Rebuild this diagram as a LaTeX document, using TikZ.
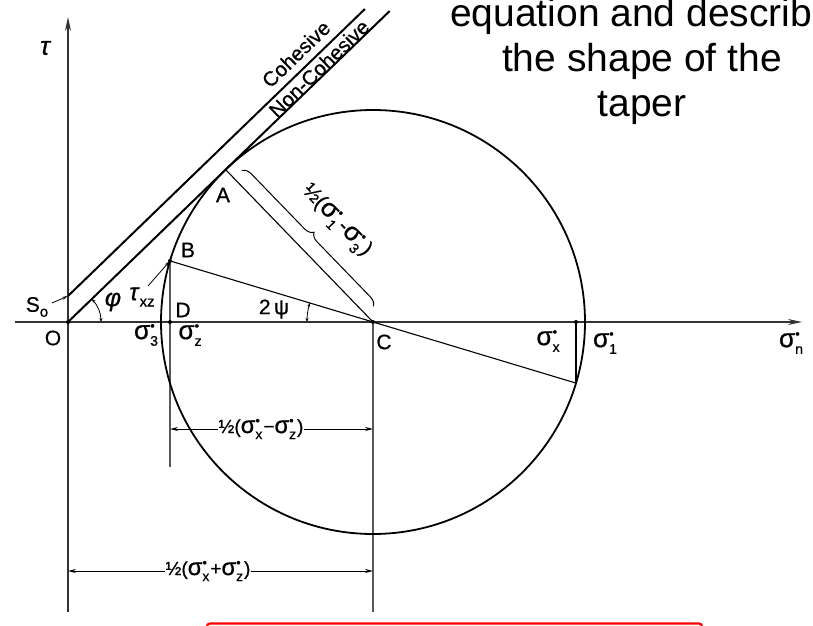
\documentclass[tikz,border=0pt]{standalone}
\usepackage{fontspec}
\setmainfont{Liberation Sans}
\newfontfamily\lblfont{Liberation Sans}[FakeBold=0.6]
\usetikzlibrary{arrows.meta,decorations.pathreplacing,calc}
\newcommand\sgm[1]{\scalebox{1.25}{σ}\rlap{\raisebox{0.8ex}{\fontsize{13}{13}\selectfont •}}\raisebox{-0.6ex}{\fontsize{14}{14}\selectfont #1}}
\begin{document}
\begin{tikzpicture}[x=1pt,y=1pt,
  lbl/.style={font=\lblfont\fontsize{21}{24}\selectfont, inner sep=0pt},
  envlbl/.style={font=\lblfont\fontsize{20.5}{22}\selectfont, inner sep=0pt},
  dimlbl/.style={font=\lblfont\fontsize{19}{22}\selectfont, inner sep=1pt, fill=white},
  toptext/.style={font=\fontsize{39}{45}\selectfont, anchor=base, inner sep=0pt},
  axis/.style={line width=1.5pt, black!80, -{Stealth[length=14pt,width=6pt]}},
  vline/.style={line width=1.3pt, black!65},
  env/.style={line width=2pt},
  thinln/.style={line width=1.1pt},
  dimarr/.style={line width=0.9pt, {Stealth[length=8pt,width=4pt]}-{Stealth[length=8pt,width=4pt]}},
  angarr/.style={line width=0.8pt, {Stealth[length=4pt,width=3pt]}-{Stealth[length=4pt,width=3pt]}},
  leader/.style={line width=0.8pt, -{Stealth[length=6pt,width=3pt]}},
  dot/.style={circle, fill, inner sep=0pt, minimum size=4pt}]
\clip (0,0) rectangle (813,625);
% key points
\coordinate (O) at (68,303);
\coordinate (C) at (373,303);
\coordinate (D) at (170,303);
\coordinate (B) at (170,364.1);
\coordinate (E) at (576,241.9);
\coordinate (X) at (576,303);
\coordinate (A) at (225.6,455.4);
\coordinate (S) at (68,329);
\coordinate (NE) at (389.7,614);
\coordinate (CE) at (364.9,616);
\coordinate (Xl) at (15,303);
\coordinate (Xr) at (802,303);
\coordinate (Yb) at (68,13);
\coordinate (Yt) at (68,608);
\coordinate (Cb) at (373,13);
\coordinate (Db) at (170,158);
% axes
\draw[axis] (Xl) -- (Xr);
\draw[axis] (Yb) -- (Yt);
% verticals
\draw[vline] (B) -- (Db);
\draw[vline] (C) -- (Cb);
% circle
\draw[line width=1.8pt] (C) circle[radius=212];
% envelopes
\draw[env] (O) -- (NE);
\draw[env] (S) -- (CE);
% radii
\draw[thinln] (B) -- (E);
\draw[thinln] (A) -- (C);
\draw[thinln] (X) -- (E);
% dots
\foreach \p in {O,D,C,B,X} \node[dot] (d\p) at (\p) {};
% angle phi
\draw[angarr] ($(O)+(0:33)$) arc[start angle=0, end angle=44.04, radius=33];
% angle 2psi
\draw[angarr] ($(C)+(180:66)$) arc[start angle=180, end angle=163.25, radius=66];
% brace
\coordinate (br1) at (241.9,454.4);
\coordinate (br2) at (373.3,318.6);
\draw[line width=1pt, decorate, decoration={brace, amplitude=9pt}] (br1) -- (br2);
\node[lbl, rotate=-46] (lbrace) at (336,404) {½(\sgm{1}\kern2pt-\sgm{3}\kern2pt)};
% S0 arrow
\coordinate (s0a) at (52,322);
\draw[leader] (s0a) -- (S);
% tau_xz leader
\coordinate (txa) at (148,339);
\draw[leader] (txa) -- (B);
% dimensions
\coordinate (d1l) at (170,196);
\coordinate (d1r) at (373,196);
\draw[dimarr] (d1l) -- (d1r);
\node[dimlbl] (l1) at (261,196) {½(\sgm{x}\kern1pt−\sgm{z}\kern1pt)};
\coordinate (d2l) at (68,54);
\coordinate (d2r) at (373,54);
\draw[dimarr] (d2l) -- (d2r);
\node[dimlbl] (l2) at (208,54) {½(\sgm{x}\kern1pt+\sgm{z}\kern1pt)};
% envelope labels
\node[envlbl, rotate=44.04] (coh) at (296,571) {Cohesive};
\node[envlbl, rotate=44.04] (ncoh) at (319,556.5) {Non-Cohesive};
% labels
\node[lbl, font=\lblfont\fontsize{26}{28}\selectfont\itshape] (tau) at (45,577) {τ};
\node[lbl] (sn) at (791,282) {\sgm{n}};
\node[lbl] (lO) at (53,287) {O};
\node[lbl] (lS) at (37,318) {S\raisebox{-0.45ex}{\fontsize{15}{15}\selectfont o}};
\node[lbl, font=\lblfont\fontsize{25}{28}\selectfont\itshape] (lphi) at (113,323) {φ};
\node[lbl] (ltxz) at (142,328) {\fontsize{24}{26}\selectfont\textit{τ}\raisebox{-0.5ex}{\fontsize{15}{15}\selectfont xz}};
\node[lbl] (lD) at (183,315) {D};
\node[lbl] (ls3) at (146,290) {\sgm{3}};
\node[lbl] (lsz) at (190,290) {\sgm{z}};
\node[lbl] (lB) at (188,375) {B};
\node[lbl] (lA) at (223,430) {A};
\node[lbl] (l2psi) at (274,316) {2\,ψ};
\node[lbl] (lC) at (384,283) {C};
\node[lbl] (lsx) at (548,284) {\sgm{x}};
\node[lbl] (ls1) at (605,282) {\sgm{1}};
% top-right text
\node[toptext] (t1) at (642,598) {equation and describe};
\node[toptext] (t2) at (642,553) {the shape of the};
\node[toptext] (t3) at (642,508) {taper};
% red box
\draw[red, line width=2.2pt, rounded corners=3pt] (207,1.5) rectangle (702,-30);
\end{tikzpicture}
\end{document}
